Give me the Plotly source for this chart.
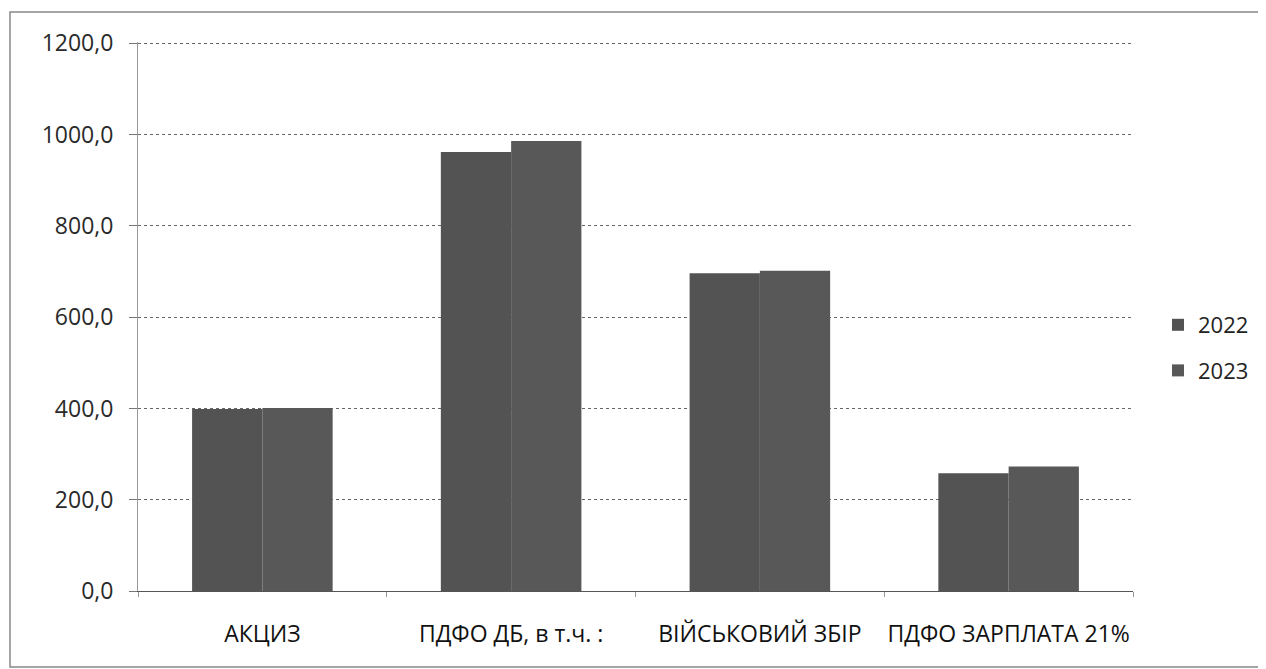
import plotly.graph_objects as go

categories = ["АКЦИЗ", "ПДФО ДБ, в т.ч. :", "ВІЙСЬКОВИЙ ЗБІР", "ПДФО ЗАРПЛАТА 21%"]
values_2022 = [399, 962, 696, 258]
values_2023 = [401, 986, 702, 273]
series_names = ["2022", "2023"]
y_ticks = [0, 200, 400, 600, 800, 1000, 1200]

# page body has an 8px margin, so the figure is 8px smaller than the window
W, H = 1258, 661
L, R, T, B = 130, 133, 34, 78

fig = go.Figure()
fig.add_trace(go.Bar(x=categories, y=values_2022, name=series_names[0], legendgroup="a",
                     marker=dict(color="#535353", line=dict(width=0))))
fig.add_trace(go.Bar(x=categories, y=values_2023, name=series_names[1], legendgroup="b",
                     marker=dict(color="#585858", line=dict(width=0))))

pw = W - L - R
ph = H - T - B
fig.update_layout(
    width=W, height=H,
    margin=dict(l=L, r=R, t=T, b=B, autoexpand=False),
    paper_bgcolor="white", plot_bgcolor="white",
    barmode="group", bargap=0.435, bargroupgap=0,
    separators=", ",
    font=dict(family="Open Sans, Liberation Sans, sans-serif", size=22, color="#222"),
    legend=dict(x=(1150 - L) / pw, y=(H - B - 340) / ph, xanchor="left", yanchor="middle",
                font=dict(size=22, color="#222"), itemwidth=30, tracegroupgap=14,
                bgcolor="rgba(0,0,0,0)"),
    yaxis=dict(range=[0, 1203], tickvals=y_ticks, tickformat=".1f",
               showgrid=True, gridcolor="#666", griddash="dot", gridwidth=1,
               showline=True, linecolor="#999", linewidth=1,
               ticks="outside", ticklen=8, tickcolor="#777", tickwidth=1,
               ticklabelstandoff=11, zeroline=False, automargin=False,
               tickfont=dict(size=23, color="#2a2a2a")),
    xaxis=dict(showline=True, linecolor="#555", linewidth=1,
               tickson="boundaries", ticks="outside", ticklen=5, tickcolor="#999",
               tickangle=0, automargin=False,
               ticklabelstandoff=22, tickfont=dict(size=23, color="#111")),
    shapes=[dict(type="rect", xref="paper", yref="paper",
                 x0=(2 - L) / pw, x1=(1256 - L) / pw,
                 y0=(H - B - 659) / ph, y1=(H - B - 4) / ph,
                 line=dict(color="#888", width=1.5))],
)
fig.write_html("out.html")
